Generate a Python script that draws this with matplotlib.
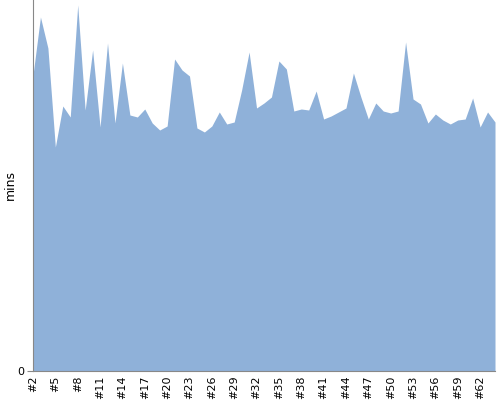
import matplotlib
matplotlib.use("Agg")
import matplotlib.pyplot as plt

# run labels #2 .. #64
labels = ["#%d" % n for n in range(2, 65)]

# minutes per run
mins = [29.6, 35.4, 32.3, 22.4, 26.5, 25.4, 36.6, 26.1, 32.1, 24.4,
        32.8, 24.8, 30.8, 25.6, 25.4, 26.2, 24.8, 24.1, 24.5, 31.2,
        30.1, 29.5, 24.3, 23.9, 24.5, 25.9, 24.7, 24.9, 28.1, 31.9,
        26.3, 26.8, 27.4, 31.0, 30.2, 26.0, 26.2, 26.1, 28.0, 25.2,
        25.5, 25.9, 26.3, 29.8, 27.4, 25.2, 26.8, 26.0, 25.8, 26.0,
        32.9, 27.2, 26.7, 24.8, 25.7, 25.1, 24.7, 25.1, 25.2, 27.3,
        24.4, 25.9, 24.9]

x = list(range(len(labels)))

fig = plt.figure(figsize=(5, 4), dpi=100)
ax = fig.add_axes([0.066, 0.0725, 0.924, 0.9275])

ax.fill_between(x, mins, 0, color="#8fb1d9", linewidth=0)

ax.set_xlim(0, len(labels) - 1)
ax.set_ylim(0, 37.1)

ax.set_xticks(x[::3])
ax.set_xticklabels(labels[::3], rotation=90, fontsize=8)
ax.set_yticks([0])
ax.set_yticklabels(["0"], fontsize=8)
ax.tick_params(axis="x", length=0, pad=3)
ax.tick_params(axis="y", length=4, color="#888888", pad=2)

ax.set_ylabel("mins", fontsize=9)
ax.yaxis.set_label_coords(-0.035, 0.5)

for s in ["top", "right"]:
    ax.spines[s].set_visible(False)
for s in ["left", "bottom"]:
    ax.spines[s].set_color("#888888")

fig.savefig("out.png", dpi=100)
